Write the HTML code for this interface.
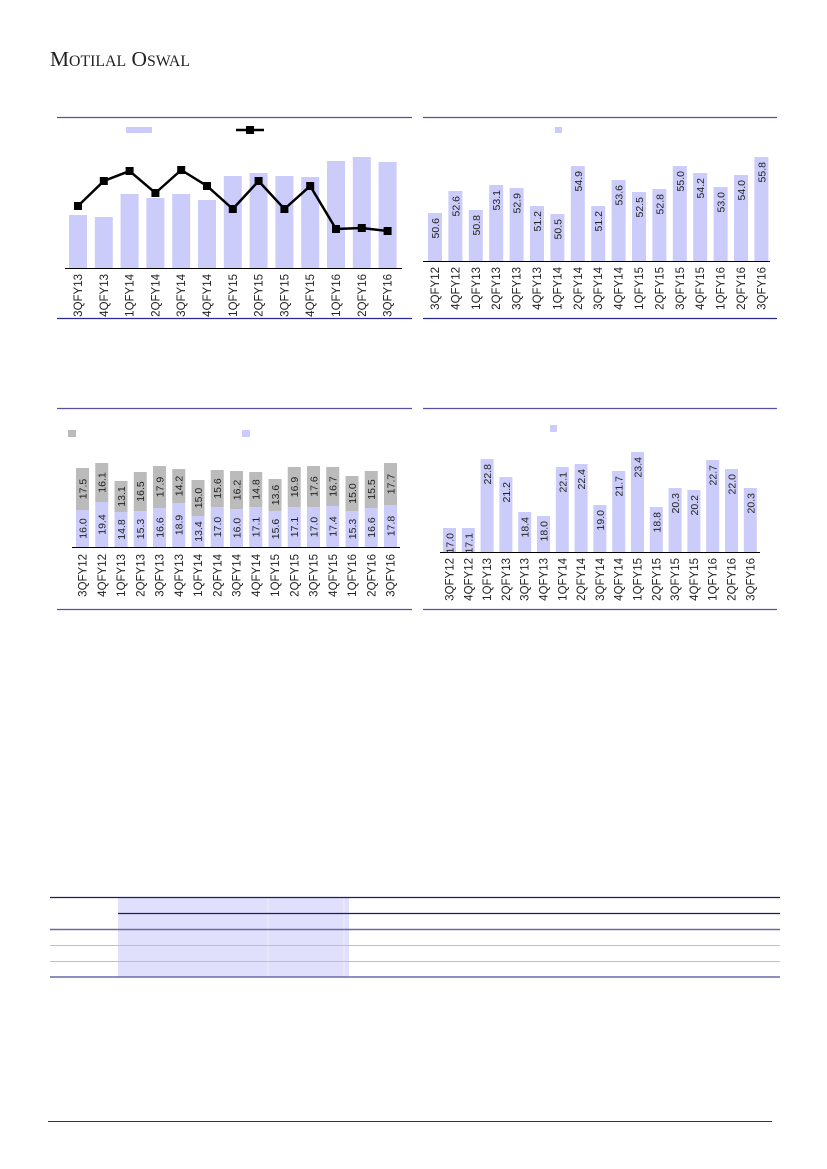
<!DOCTYPE html>
<html><head><meta charset="utf-8"><style>
html,body{margin:0;padding:0;background:#fff;}
svg{display:block;font-family:"Liberation Sans",sans-serif;}
.ax{font-size:11.5px;fill:#222;}
.v{font-size:10.5px;fill:#222;}
</style></head><body>
<svg width="827" height="1169" viewBox="0 0 827 1169" xmlns="http://www.w3.org/2000/svg">
<text x="50" y="66" font-family="Liberation Serif,serif" font-size="21" fill="#222" textLength="140" lengthAdjust="spacingAndGlyphs">M<tspan font-size="15.5">OTILAL</tspan> O<tspan font-size="15.5">SWAL</tspan></text>

<!-- Chart 1 -->
<line x1="57" y1="117.5" x2="412" y2="117.5" stroke="#5a4fa0" stroke-width="1.2"/>
<line x1="57" y1="318.5" x2="412" y2="318.5" stroke="#2a2a90" stroke-width="1.2"/>
<rect x="126" y="127" width="26" height="6" fill="#ccccfa"/>
<line x1="236" y1="130" x2="264" y2="130" stroke="#000" stroke-width="2.5"/>
<rect x="246" y="126" width="8" height="8" fill="#000"/>
<g fill="#ccccfa">
<rect x="69" y="215" width="18" height="53"/><rect x="94.8" y="217" width="18" height="51"/><rect x="120.6" y="194" width="18" height="74"/><rect x="146.4" y="198" width="18" height="70"/><rect x="172.2" y="194" width="18" height="74"/><rect x="198" y="200" width="18" height="68"/><rect x="223.8" y="176" width="18" height="92"/><rect x="249.6" y="173" width="18" height="95"/><rect x="275.4" y="176" width="18" height="92"/><rect x="301.2" y="177" width="18" height="91"/><rect x="327" y="161" width="18" height="107"/><rect x="352.8" y="157" width="18" height="111"/><rect x="378.6" y="162" width="18" height="106"/>
</g>
<line x1="65" y1="268.5" x2="402" y2="268.5" stroke="#000" stroke-width="1"/>
<polyline fill="none" stroke="#000" stroke-width="2.5" points="78,206 103.8,181 129.6,171 155.4,193 181.2,170 207,186 232.8,209 258.6,181 284.4,209 310.2,186 336,229 361.8,228 387.6,231"/>
<g fill="#000">
<rect x="74" y="202" width="8" height="8"/><rect x="99.8" y="177" width="8" height="8"/><rect x="125.6" y="167" width="8" height="8"/><rect x="151.4" y="189" width="8" height="8"/><rect x="177.2" y="166" width="8" height="8"/><rect x="203" y="182" width="8" height="8"/><rect x="228.8" y="205" width="8" height="8"/><rect x="254.6" y="177" width="8" height="8"/><rect x="280.4" y="205" width="8" height="8"/><rect x="306.2" y="182" width="8" height="8"/><rect x="332" y="225" width="8" height="8"/><rect x="357.8" y="224" width="8" height="8"/><rect x="383.6" y="227" width="8" height="8"/>
</g>
<g class="ax" text-anchor="end">
<text transform="translate(82,274) rotate(-90)">3QFY13</text><text transform="translate(107.8,274) rotate(-90)">4QFY13</text><text transform="translate(133.6,274) rotate(-90)">1QFY14</text><text transform="translate(159.4,274) rotate(-90)">2QFY14</text><text transform="translate(185.2,274) rotate(-90)">3QFY14</text><text transform="translate(211,274) rotate(-90)">4QFY14</text><text transform="translate(236.8,274) rotate(-90)">1QFY15</text><text transform="translate(262.6,274) rotate(-90)">2QFY15</text><text transform="translate(288.4,274) rotate(-90)">3QFY15</text><text transform="translate(314.2,274) rotate(-90)">4QFY15</text><text transform="translate(340,274) rotate(-90)">1QFY16</text><text transform="translate(365.8,274) rotate(-90)">2QFY16</text><text transform="translate(391.6,274) rotate(-90)">3QFY16</text>
</g>

<!-- Chart 2 -->
<line x1="423" y1="117.5" x2="777" y2="117.5" stroke="#5a4fa0" stroke-width="1.2"/>
<line x1="423" y1="318.5" x2="777" y2="318.5" stroke="#2a2a90" stroke-width="1.2"/>
<rect x="555" y="127" width="7" height="6" fill="#ccccfa"/>
<g fill="#ccccfa">
<rect x="428" y="213" width="14" height="48"/><rect x="448.4" y="191" width="14" height="70"/><rect x="468.8" y="210" width="14" height="51"/><rect x="489.2" y="185" width="14" height="76"/><rect x="509.6" y="188" width="14" height="73"/><rect x="530" y="206" width="14" height="55"/><rect x="550.4" y="214" width="14" height="47"/><rect x="570.8" y="166" width="14" height="95"/><rect x="591.2" y="206" width="14" height="55"/><rect x="611.6" y="180" width="14" height="81"/><rect x="632" y="192" width="14" height="69"/><rect x="652.4" y="189" width="14" height="72"/><rect x="672.8" y="166" width="14" height="95"/><rect x="693.2" y="173" width="14" height="88"/><rect x="713.6" y="187" width="14" height="74"/><rect x="734" y="175" width="14" height="86"/><rect x="754.4" y="157" width="14" height="104"/>
</g>
<line x1="423" y1="261.5" x2="770" y2="261.5" stroke="#000" stroke-width="1"/>
<g class="v" text-anchor="end">
<text transform="translate(439,218) rotate(-90)">50.6</text><text transform="translate(459.4,196) rotate(-90)">52.6</text><text transform="translate(479.8,215) rotate(-90)">50.8</text><text transform="translate(500.2,190) rotate(-90)">53.1</text><text transform="translate(520.6,193) rotate(-90)">52.9</text><text transform="translate(541,211) rotate(-90)">51.2</text><text transform="translate(561.4,219) rotate(-90)">50.5</text><text transform="translate(581.8,171) rotate(-90)">54.9</text><text transform="translate(602.2,211) rotate(-90)">51.2</text><text transform="translate(622.6,185) rotate(-90)">53.6</text><text transform="translate(643,197) rotate(-90)">52.5</text><text transform="translate(663.4,194) rotate(-90)">52.8</text><text transform="translate(683.8,171) rotate(-90)">55.0</text><text transform="translate(704.2,178) rotate(-90)">54.2</text><text transform="translate(724.6,192) rotate(-90)">53.0</text><text transform="translate(745,180) rotate(-90)">54.0</text><text transform="translate(765.4,162) rotate(-90)">55.8</text>
</g>
<g class="ax" text-anchor="end">
<text transform="translate(439,267) rotate(-90)">3QFY12</text><text transform="translate(459.4,267) rotate(-90)">4QFY12</text><text transform="translate(479.8,267) rotate(-90)">1QFY13</text><text transform="translate(500.2,267) rotate(-90)">2QFY13</text><text transform="translate(520.6,267) rotate(-90)">3QFY13</text><text transform="translate(541,267) rotate(-90)">4QFY13</text><text transform="translate(561.4,267) rotate(-90)">1QFY14</text><text transform="translate(581.8,267) rotate(-90)">2QFY14</text><text transform="translate(602.2,267) rotate(-90)">3QFY14</text><text transform="translate(622.6,267) rotate(-90)">4QFY14</text><text transform="translate(643,267) rotate(-90)">1QFY15</text><text transform="translate(663.4,267) rotate(-90)">2QFY15</text><text transform="translate(683.8,267) rotate(-90)">3QFY15</text><text transform="translate(704.2,267) rotate(-90)">4QFY15</text><text transform="translate(724.6,267) rotate(-90)">1QFY16</text><text transform="translate(745,267) rotate(-90)">2QFY16</text><text transform="translate(765.4,267) rotate(-90)">3QFY16</text>
</g>

<!-- Chart 3 -->
<line x1="57" y1="408.5" x2="412" y2="408.5" stroke="#5a4fa0" stroke-width="1.2"/>
<line x1="57" y1="609.5" x2="412" y2="609.5" stroke="#5a4fa0" stroke-width="1.2"/>
<rect x="68" y="430" width="8" height="7" fill="#bbbbbb"/>
<rect x="242" y="430" width="8" height="7" fill="#ccccfa"/>
<g fill="#bbbbbb">
<rect x="76" y="468" width="13" height="42"/><rect x="95.25" y="463" width="13" height="39"/><rect x="114.5" y="481" width="13" height="31"/><rect x="133.75" y="472" width="13" height="39"/><rect x="153" y="466" width="13" height="42"/><rect x="172.25" y="469" width="13" height="34"/><rect x="191.5" y="480" width="13" height="36"/><rect x="210.75" y="470" width="13" height="37"/><rect x="230" y="471" width="13" height="38"/><rect x="249.25" y="472" width="13" height="35"/><rect x="268.5" y="479" width="13" height="32"/><rect x="287.75" y="467" width="13" height="40"/><rect x="307" y="466" width="13" height="41"/><rect x="326.25" y="467" width="13" height="39"/><rect x="345.5" y="476" width="13" height="35"/><rect x="364.75" y="471" width="13" height="37"/><rect x="384" y="463" width="13" height="42"/>
</g>
<g fill="#ccccfa">
<rect x="76" y="510" width="13" height="37"/><rect x="95.25" y="502" width="13" height="45"/><rect x="114.5" y="512" width="13" height="35"/><rect x="133.75" y="511" width="13" height="36"/><rect x="153" y="508" width="13" height="39"/><rect x="172.25" y="503" width="13" height="44"/><rect x="191.5" y="516" width="13" height="31"/><rect x="210.75" y="507" width="13" height="40"/><rect x="230" y="509" width="13" height="38"/><rect x="249.25" y="507" width="13" height="40"/><rect x="268.5" y="511" width="13" height="36"/><rect x="287.75" y="507" width="13" height="40"/><rect x="307" y="507" width="13" height="40"/><rect x="326.25" y="506" width="13" height="41"/><rect x="345.5" y="511" width="13" height="36"/><rect x="364.75" y="508" width="13" height="39"/><rect x="384" y="505" width="13" height="42"/>
</g>
<line x1="72" y1="547.5" x2="400" y2="547.5" stroke="#000" stroke-width="1"/>
<g class="v" text-anchor="middle">
<text transform="translate(86.3,528.5) rotate(-90)">16.0</text><text transform="translate(105.55,524.5) rotate(-90)">19.4</text><text transform="translate(124.8,529.5) rotate(-90)">14.8</text><text transform="translate(144.05,529) rotate(-90)">15.3</text><text transform="translate(163.3,527.5) rotate(-90)">16.6</text><text transform="translate(182.55,525) rotate(-90)">18.9</text><text transform="translate(201.8,531.5) rotate(-90)">13.4</text><text transform="translate(221.05,527) rotate(-90)">17.0</text><text transform="translate(240.3,528) rotate(-90)">16.0</text><text transform="translate(259.55,527) rotate(-90)">17.1</text><text transform="translate(278.8,529) rotate(-90)">15.6</text><text transform="translate(298.05,527) rotate(-90)">17.1</text><text transform="translate(317.3,527) rotate(-90)">17.0</text><text transform="translate(336.55,526.5) rotate(-90)">17.4</text><text transform="translate(355.8,529) rotate(-90)">15.3</text><text transform="translate(375.05,527.5) rotate(-90)">16.6</text><text transform="translate(394.3,526) rotate(-90)">17.8</text>
<text transform="translate(86.3,489) rotate(-90)">17.5</text><text transform="translate(105.55,482.5) rotate(-90)">16.1</text><text transform="translate(124.8,496.5) rotate(-90)">13.1</text><text transform="translate(144.05,491.5) rotate(-90)">16.5</text><text transform="translate(163.3,487) rotate(-90)">17.9</text><text transform="translate(182.55,486) rotate(-90)">14.2</text><text transform="translate(201.8,498) rotate(-90)">15.0</text><text transform="translate(221.05,488.5) rotate(-90)">15.6</text><text transform="translate(240.3,490) rotate(-90)">16.2</text><text transform="translate(259.55,489.5) rotate(-90)">14.8</text><text transform="translate(278.8,495) rotate(-90)">13.6</text><text transform="translate(298.05,487) rotate(-90)">16.9</text><text transform="translate(317.3,486.5) rotate(-90)">17.6</text><text transform="translate(336.55,486.5) rotate(-90)">16.7</text><text transform="translate(355.8,493.5) rotate(-90)">15.0</text><text transform="translate(375.05,489.5) rotate(-90)">15.5</text><text transform="translate(394.3,484) rotate(-90)">17.7</text>
</g>
<g class="ax" text-anchor="end">
<text transform="translate(86.5,554) rotate(-90)">3QFY12</text><text transform="translate(105.75,554) rotate(-90)">4QFY12</text><text transform="translate(125,554) rotate(-90)">1QFY13</text><text transform="translate(144.25,554) rotate(-90)">2QFY13</text><text transform="translate(163.5,554) rotate(-90)">3QFY13</text><text transform="translate(182.75,554) rotate(-90)">4QFY13</text><text transform="translate(202,554) rotate(-90)">1QFY14</text><text transform="translate(221.25,554) rotate(-90)">2QFY14</text><text transform="translate(240.5,554) rotate(-90)">3QFY14</text><text transform="translate(259.75,554) rotate(-90)">4QFY14</text><text transform="translate(279,554) rotate(-90)">1QFY15</text><text transform="translate(298.25,554) rotate(-90)">2QFY15</text><text transform="translate(317.5,554) rotate(-90)">3QFY15</text><text transform="translate(336.75,554) rotate(-90)">4QFY15</text><text transform="translate(356,554) rotate(-90)">1QFY16</text><text transform="translate(375.25,554) rotate(-90)">2QFY16</text><text transform="translate(394.5,554) rotate(-90)">3QFY16</text>
</g>

<!-- Chart 4 -->
<line x1="423" y1="408.5" x2="777" y2="408.5" stroke="#5a4fa0" stroke-width="1.2"/>
<line x1="423" y1="609.5" x2="777" y2="609.5" stroke="#5a4fa0" stroke-width="1.2"/>
<rect x="550" y="425" width="7" height="7" fill="#ccccfa"/>
<g fill="#ccccfa">
<rect x="443" y="528" width="13" height="24"/><rect x="461.8" y="528" width="13" height="24"/><rect x="480.6" y="459" width="13" height="93"/><rect x="499.4" y="477" width="13" height="75"/><rect x="518.2" y="512" width="13" height="40"/><rect x="537" y="516" width="13" height="36"/><rect x="555.8" y="467" width="13" height="85"/><rect x="574.6" y="464" width="13" height="88"/><rect x="593.4" y="505" width="13" height="47"/><rect x="612.2" y="471" width="13" height="81"/><rect x="631" y="452" width="13" height="100"/><rect x="649.8" y="507" width="13" height="45"/><rect x="668.6" y="488" width="13" height="64"/><rect x="687.4" y="490" width="13" height="62"/><rect x="706.2" y="460" width="13" height="92"/><rect x="725" y="469" width="13" height="83"/><rect x="743.8" y="488" width="13" height="64"/>
</g>
<line x1="440" y1="552.5" x2="760" y2="552.5" stroke="#000" stroke-width="1"/>
<g class="v" text-anchor="end">
<text transform="translate(453.5,533) rotate(-90)">17.0</text><text transform="translate(472.3,533) rotate(-90)">17.1</text><text transform="translate(491.1,464) rotate(-90)">22.8</text><text transform="translate(509.9,482) rotate(-90)">21.2</text><text transform="translate(528.7,517) rotate(-90)">18.4</text><text transform="translate(547.5,521) rotate(-90)">18.0</text><text transform="translate(566.3,472) rotate(-90)">22.1</text><text transform="translate(585.1,469) rotate(-90)">22.4</text><text transform="translate(603.9,510) rotate(-90)">19.0</text><text transform="translate(622.7,476) rotate(-90)">21.7</text><text transform="translate(641.5,457) rotate(-90)">23.4</text><text transform="translate(660.3,512) rotate(-90)">18.8</text><text transform="translate(679.1,493) rotate(-90)">20.3</text><text transform="translate(697.9,495) rotate(-90)">20.2</text><text transform="translate(716.7,465) rotate(-90)">22.7</text><text transform="translate(735.5,474) rotate(-90)">22.0</text><text transform="translate(754.3,493) rotate(-90)">20.3</text>
</g>
<g class="ax" text-anchor="end">
<text transform="translate(453.5,558) rotate(-90)">3QFY12</text><text transform="translate(472.3,558) rotate(-90)">4QFY12</text><text transform="translate(491.1,558) rotate(-90)">1QFY13</text><text transform="translate(509.9,558) rotate(-90)">2QFY13</text><text transform="translate(528.7,558) rotate(-90)">3QFY13</text><text transform="translate(547.5,558) rotate(-90)">4QFY13</text><text transform="translate(566.3,558) rotate(-90)">1QFY14</text><text transform="translate(585.1,558) rotate(-90)">2QFY14</text><text transform="translate(603.9,558) rotate(-90)">3QFY14</text><text transform="translate(622.7,558) rotate(-90)">4QFY14</text><text transform="translate(641.5,558) rotate(-90)">1QFY15</text><text transform="translate(660.3,558) rotate(-90)">2QFY15</text><text transform="translate(679.1,558) rotate(-90)">3QFY15</text><text transform="translate(697.9,558) rotate(-90)">4QFY15</text><text transform="translate(716.7,558) rotate(-90)">1QFY16</text><text transform="translate(735.5,558) rotate(-90)">2QFY16</text><text transform="translate(754.3,558) rotate(-90)">3QFY16</text>
</g>

<!-- Table -->
<rect x="118" y="897" width="231" height="80" fill="#e0e0fc"/>
<line x1="268" y1="897" x2="268" y2="977" stroke="#eeeefd" stroke-width="1"/>
<line x1="344" y1="897" x2="344" y2="977" stroke="#eeeefd" stroke-width="1"/>
<line x1="50" y1="897.5" x2="780" y2="897.5" stroke="#1a1a66" stroke-width="1.2"/>
<line x1="118" y1="913.5" x2="780" y2="913.5" stroke="#1a1a66" stroke-width="1.2"/>
<line x1="50" y1="929.5" x2="780" y2="929.5" stroke="#6a6aa8" stroke-width="1.5"/>
<line x1="50" y1="945.5" x2="780" y2="945.5" stroke="#c0c0c0" stroke-width="1"/>
<line x1="50" y1="961.5" x2="780" y2="961.5" stroke="#c0c0c0" stroke-width="1"/>
<line x1="50" y1="977" x2="780" y2="977" stroke="#6a6aa8" stroke-width="1.5"/>

<!-- Footer -->
<line x1="48" y1="1121.5" x2="772" y2="1121.5" stroke="#333" stroke-width="1"/>
</svg>
</body></html>
